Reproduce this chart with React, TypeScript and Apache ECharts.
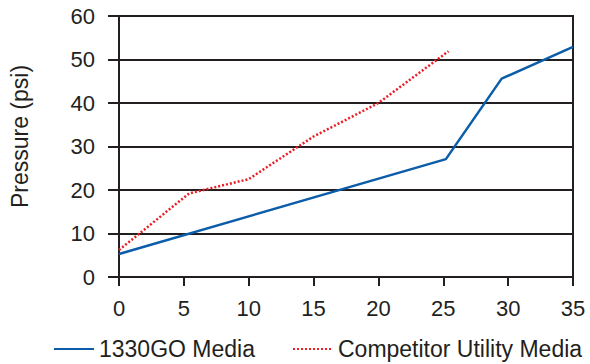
import React, { useEffect, useRef } from "react";
import * as echarts from "echarts";

const seriesNames = ["1330GO Media", "Competitor Utility Media"];
const goX = [0, 25.2, 29.5, 35];
const goY = [5.3, 27.1, 45.6, 52.9];
const compX = [0, 5.4, 10, 15, 20, 25.4];
const compY = [6.2, 19.2, 22.5, 32.3, 40, 51.9];
const xTicks = { min: 0, max: 35, interval: 5 };
const yTicks = { min: 0, max: 60, interval: 10 };
const yTitle = "Pressure (psi)";

const INK = "#231f20";
const FONT = "'Liberation Sans', Arial, Helvetica, sans-serif";

export default function App() {
  const ref = useRef<HTMLDivElement>(null);
  useEffect(() => {
    if (!ref.current) return;
    const chart = echarts.init(ref.current, undefined, { renderer: "svg" });
    chart.setOption({
      animation: false,
      backgroundColor: "#ffffff",
      textStyle: { fontFamily: FONT, color: INK },
      grid: {
        left: 117,
        right: 17,
        top: 16,
        bottom: 87,
        show: true,
        borderColor: INK,
        borderWidth: 2,
        backgroundColor: "transparent",
      },
      legend: {
        left: 53,
        top: 337,
        padding: 0,
        itemWidth: 40,
        itemHeight: 14,
        itemGap: 37,
        itemStyle: { opacity: 0 },
        textStyle: { fontFamily: FONT, fontSize: 23, color: INK, lineHeight: 24 },
        data: seriesNames,
      },
      xAxis: {
        type: "value",
        min: xTicks.min,
        max: xTicks.max,
        interval: xTicks.interval,
        axisLine: { show: true, lineStyle: { color: INK, width: 2 } },
        axisTick: { show: true, length: 9, lineStyle: { color: INK, width: 2 } },
        axisLabel: { fontFamily: FONT, fontSize: 22, color: INK, margin: 20 },
        splitLine: { show: false },
      },
      yAxis: {
        type: "value",
        min: yTicks.min,
        max: yTicks.max,
        interval: yTicks.interval,
        name: yTitle,
        nameLocation: "middle",
        nameGap: 88,
        nameTextStyle: { fontFamily: FONT, fontSize: 23, color: INK, padding: [0, 0, 0, 20] },
        axisLine: { show: true, lineStyle: { color: INK, width: 2 } },
        axisTick: { show: true, length: 11, lineStyle: { color: INK, width: 2 } },
        axisLabel: { fontFamily: FONT, fontSize: 22, color: INK, margin: 24 },
        splitLine: { show: true, lineStyle: { color: INK, width: 2 } },
      },
      series: [
        {
          name: seriesNames[0],
          type: "line",
          symbol: "none",
          data: goX.map((x, i) => [x, goY[i]]),
          lineStyle: { color: "#0b5ca9", width: 2.5 },
          itemStyle: { color: "#0b5ca9" },
          z: 3,
        },
        {
          name: seriesNames[1],
          type: "line",
          symbol: "none",
          data: compX.map((x, i) => [x, compY[i]]),
          lineStyle: { color: "#ed1c24", width: 2.5, type: [2, 2] },
          itemStyle: { color: "#ed1c24" },
          z: 4,
        },
      ],
    });
    return () => chart.dispose();
  }, []);
  return <div ref={ref} style={{ width: 590, height: 364, position: "absolute", left: 0, top: 0 }} />;
}
